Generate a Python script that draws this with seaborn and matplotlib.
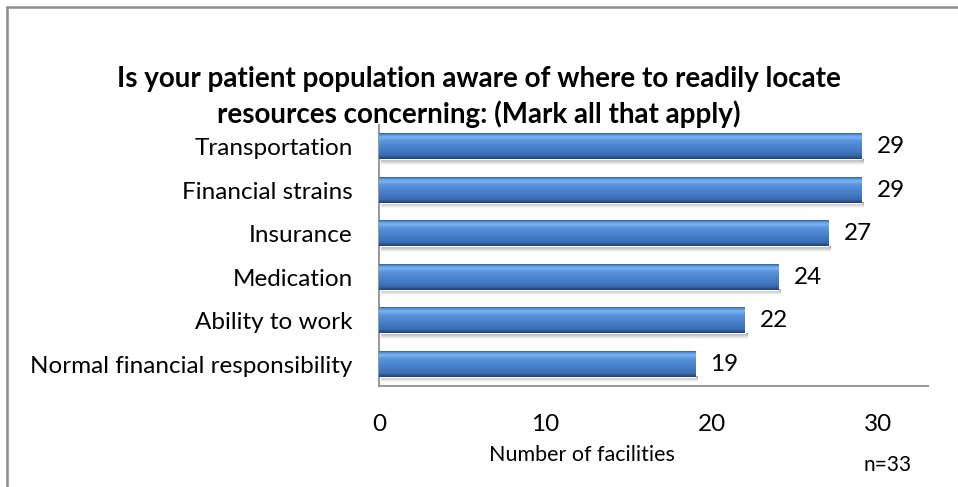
import numpy as np
import pandas as pd
import matplotlib
matplotlib.use("Agg")
import matplotlib.pyplot as plt
from matplotlib.colors import LinearSegmentedColormap
from matplotlib.lines import Line2D
import seaborn as sns

# Survey responses: facilities whose patients know where to find each resource
categories = [
    "Transportation",
    "Financial strains",
    "Insurance",
    "Medication",
    "Ability to work",
    "Normal financial responsibility",
]
counts = [29, 29, 27, 24, 22, 19]
x_ticks = [0, 10, 20, 30]

title = ("Is your patient population aware of where to readily locate\n"
         "resources concerning: (Mark all that apply)")
x_label = "Number of facilities"
sample_note = "n=33"

df = pd.DataFrame({"category": categories, "count": counts})

sns.set_theme(style="white")
plt.rcParams["font.family"] = ["Lato", "DejaVu Sans"]

W, H = 958, 487
fig = plt.figure(figsize=(W / 100, H / 100), dpi=100)
fig.patch.set_facecolor("white")

ax = fig.add_axes([379 / W, 1 - 386 / H, (928 - 379) / W, (386 - 125) / H])

sns.barplot(data=df, x="count", y="category", orient="h", color="#3C76C0",
            width=0.58, ax=ax, saturation=1, zorder=2)

ax.set_xlim(0, 33)
ax.set_ylim(len(categories) - 0.5, -0.5)

# Glossy vertical shading over each bar, plus a soft shadow underneath
bar_cmap = LinearSegmentedColormap.from_list(
    "bevel",
    [(0.00, "#2E5E9E"), (0.07, "#5C96DE"), (0.16, "#7DB4F2"),
     (0.30, "#5A93DB"), (0.60, "#4680CB"), (0.86, "#3A6CB0"),
     (0.93, "#2A5490"), (1.00, "#1F3F6E")])
shadow_cmap = LinearSegmentedColormap.from_list(
    "shadow", [(0, "#9a9a9a"), (0.5, "#d2d2d2"), (1, "#ffffff")])
grad = np.linspace(0, 1, 256).reshape(-1, 1)

for patch in ax.patches:
    x0, y0 = patch.get_x(), patch.get_y()
    w, h = patch.get_width(), patch.get_height()
    ax.imshow(grad, cmap=shadow_cmap, aspect="auto", origin="upper",
              extent=(x0 + 0.1, x0 + w + 0.1, y0 + h + 0.12, y0 + h),
              zorder=1, interpolation="bilinear")
    ax.imshow(grad, cmap=bar_cmap, aspect="auto", origin="upper",
              extent=(x0, x0 + w, y0 + h, y0),
              zorder=3, interpolation="bilinear")

ax.set_xlim(0, 33)
ax.set_ylim(len(categories) - 0.5, -0.5)

ax.bar_label(ax.containers[0], labels=[str(v) for v in counts],
             padding=11, fontsize=17.5, color="black", zorder=4)

ax.set_xticks(x_ticks)
ax.set_xticklabels([str(t) for t in x_ticks])
ax.tick_params(axis="x", length=0, pad=20, labelsize=17.5, colors="black")
ax.tick_params(axis="y", length=0, pad=19, labelsize=17.5, colors="black")
ax.set_xlabel("")
ax.set_ylabel("")

for side in ("top", "right"):
    ax.spines[side].set_visible(False)
for side in ("left", "bottom"):
    ax.spines[side].set_color("#9a9a9a")
    ax.spines[side].set_linewidth(1.5)

fig.text(0.5, 1 - 97 / H, title, ha="center", va="center",
         fontsize=20, fontweight="bold", linespacing=1.33, color="black")
fig.text(582 / W, 1 - 455 / H, x_label, ha="center", va="center",
         fontsize=15.5, color="black")
fig.text(888 / W, 1 - 465 / H, sample_note, ha="center", va="center",
         fontsize=15, color="black")

# Chart frame running off the right and bottom edges
fig.add_artist(Line2D([7 / W, 7 / W], [0, 1 - 7 / H], transform=fig.transFigure,
                      color="#8c8c8c", linewidth=1.8))
fig.add_artist(Line2D([7 / W, 1], [1 - 7 / H, 1 - 7 / H], transform=fig.transFigure,
                      color="#8c8c8c", linewidth=1.8))

fig.savefig("out.png", dpi=100, facecolor="white")
